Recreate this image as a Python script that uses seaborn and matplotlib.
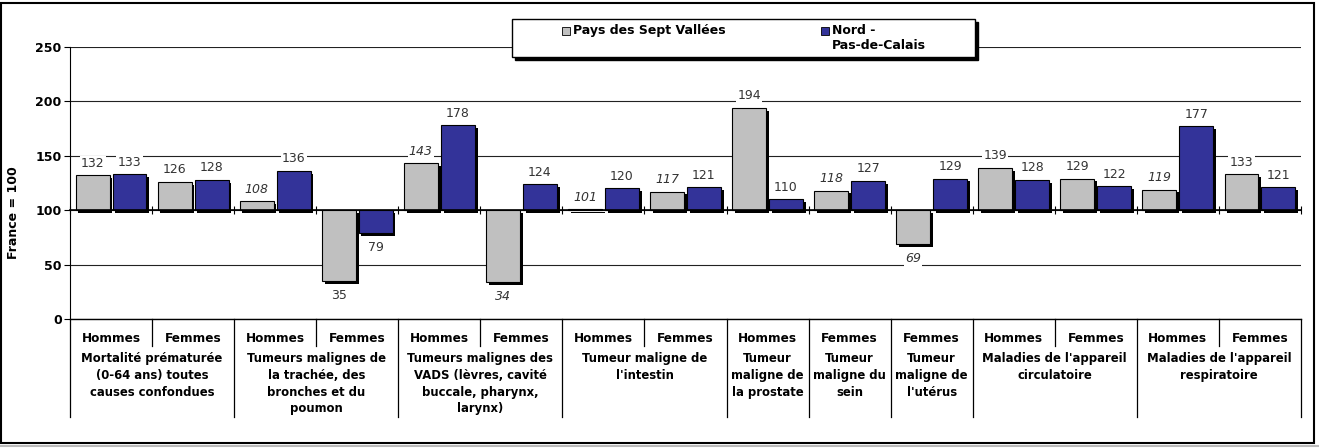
import numpy as np
import pandas as pd
import seaborn as sns
import matplotlib
matplotlib.use("Agg")
from matplotlib import pyplot as plt
from matplotlib import patheffects as pe
from matplotlib.patches import Rectangle
from matplotlib.lines import Line2D

# values (France = 100)
sexes = ["Hommes", "Femmes", "Hommes", "Femmes", "Hommes", "Femmes", "Hommes", "Femmes",
         "Hommes", "Femmes", "Femmes", "Hommes", "Femmes", "Hommes", "Femmes"]
sept_vallees = [132, 126, 108, 35, 143, 34, 101, 117, 194, 118, 69, 139, 129, 119, 133]
sept_italic = [False, False, True, False, True, True, True, True, False, True, True,
               False, False, True, False]
nord_pdc = [133, 128, 136, 79, 178, 124, 120, 121, 110, 127, 129, 128, 122, 177, 121]
group_names = [
    "Mortalité prématurée\n(0-64 ans) toutes\ncauses confondues",
    "Tumeurs malignes de\nla trachée, des\nbronches et du\npoumon",
    "Tumeurs malignes des\nVADS (lèvres, cavité\nbuccale, pharynx,\nlarynx)",
    "Tumeur maligne de\nl'intestin",
    "Tumeur\nmaligne de\nla prostate",
    "Tumeur\nmaligne du\nsein",
    "Tumeur\nmaligne de\nl'utérus",
    "Maladies de l'appareil\ncirculatoire",
    "Maladies de l'appareil\nrespiratoire",
]
group_sizes = [2, 2, 2, 2, 1, 1, 1, 2, 2]
series = ["Pays des Sept Vallées", "Nord - Pas-de-Calais"]
colors = ["#C0C0C0", "#333399"]

W, H = 1319, 448
n = len(sexes)
df = pd.DataFrame({
    "idx": list(range(n)) * 2,
    "serie": [series[0]] * n + [series[1]] * n,
    "value": sept_vallees + nord_pdc,
})
df["delta"] = df["value"] - 100

fig = plt.figure(figsize=(W / 100, H / 100), dpi=100)
ax = fig.add_axes([70 / W, 1 - 319 / H, 1231 / W, 272 / H])

shadow = [pe.SimplePatchShadow(offset=(2, -2), shadow_rgbFace="black", alpha=1.0), pe.Normal()]
sns.barplot(data=df, x="idx", y="delta", hue="serie", palette=colors, saturation=1,
            bottom=100, width=0.9, gap=0.08, edgecolor="black", linewidth=0.8,
            legend=False, path_effects=shadow, ax=ax, zorder=3)

ax.set_ylim(0, 250)
ax.set_xlim(-0.5, n - 0.5)
ax.set_yticks(range(0, 251, 50))
ax.yaxis.grid(True, color="#222222", linewidth=0.8)
ax.set_axisbelow(True)
ax.set_xlabel("")
ax.set_ylabel("France = 100", fontsize=9, fontweight="bold")
ax.yaxis.set_label_coords(-50 / 1231, 0.39)
for lab in ax.get_yticklabels():
    lab.set_fontweight("bold")
    lab.set_fontsize(9)
ax.tick_params(axis="y", length=4, width=0.8, pad=2)

# category axis crosses at 100
ax.spines["top"].set_visible(False)
ax.spines["right"].set_visible(False)
ax.spines["bottom"].set_position(("data", 100))
ax.spines["bottom"].set_linewidth(1.2)
ax.spines["bottom"].set_zorder(4)
ax.set_xticks(np.arange(-0.5, n, 1))
ax.tick_params(axis="x", direction="inout", length=6, width=0.8, labelbottom=False)

# value labels
for cont, vals, ital in zip(ax.containers, [sept_vallees, nord_pdc],
                            [sept_italic, [False] * n]):
    for bar, v, it in zip(cont, vals, ital):
        xc = bar.get_x() + bar.get_width() / 2
        if v >= 100:
            off, va = 4, "bottom"
        else:
            off, va = -6, "top"
        ax.annotate(str(v), (xc, v), xytext=(0, off), textcoords="offset points",
                    ha="center", va=va, fontsize=9, color="#333333",
                    style="italic" if it else "normal", zorder=5,
                    bbox=dict(boxstyle="square,pad=0.1", fc="white", ec="none"))

# multi-level category labels under the plot
xt = ax.get_xaxis_transform()
ax.plot([-0.5, n - 0.5], [0, 0], transform=xt, color="black", lw=1, clip_on=False)
for i, s in enumerate(sexes):
    ax.text(i, -19 / 272, s, transform=xt, ha="center", va="center",
            fontsize=8.7, fontweight="bold")
start = 0
edges = [-0.5]
for name, size in zip(group_names, group_sizes):
    center = start + (size - 1) / 2
    ax.text(center, -33 / 272, name, transform=xt, ha="center", va="top",
            fontsize=8.4, fontweight="bold", linespacing=1.38)
    for k in range(1, size):
        ax.plot([start + k - 0.5] * 2, [0, -27 / 272], transform=xt,
                color="black", lw=0.9, clip_on=False)
    start += size
    edges.append(start - 0.5)
for e in edges:
    ax.plot([e, e], [0, -98 / 272], transform=xt, color="black", lw=0.9, clip_on=False)


def fx(px):
    return px / W


def fy(py):
    return 1 - py / H


# legend box
fig.add_artist(Rectangle((fx(515), fy(60)), fx(975) - fx(512), fy(19) - fy(57),
                         transform=fig.transFigure, fc="black", ec="black", zorder=9))
fig.add_artist(Rectangle((fx(512), fy(57)), fx(975) - fx(512), fy(19) - fy(57),
                         transform=fig.transFigure, fc="white", ec="black", lw=1, zorder=10))
for (sx, label, col) in [(562, "Pays des Sept Vallées", colors[0]),
                         (821, "Nord -\nPas-de-Calais", colors[1])]:
    fig.add_artist(Rectangle((fx(sx), fy(35)), fx(8), fy(27) - fy(35),
                             transform=fig.transFigure, fc=col, ec="black", lw=0.6, zorder=11))
    fig.text(fx(sx + 11), fy(24), label, ha="left", va="top", fontsize=9,
             fontweight="bold", linespacing=1.2, zorder=11)

# chart area frame
fig.add_artist(Rectangle((fx(1), fy(443)), fx(1314) - fx(1), fy(3) - fy(443),
                         transform=fig.transFigure, fc="none", ec="black", lw=1.5, zorder=0))
fig.add_artist(Line2D([0, 1], [fy(446), fy(446)], transform=fig.transFigure,
                      color="#BBBBBB", lw=1.5))

fig.savefig("out.png", dpi=100)
